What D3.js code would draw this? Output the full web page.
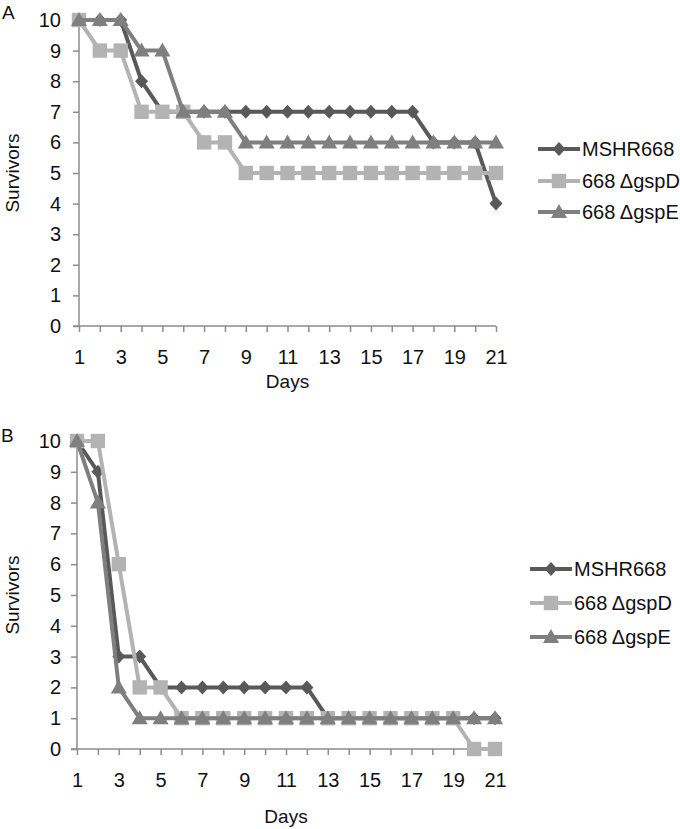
<!DOCTYPE html>
<html><head><meta charset="utf-8">
<script src="https://cdn.jsdelivr.net/npm/d3@7"></script>
<style>body{margin:0;background:#fff}svg{display:block;font-family:"Liberation Sans",Arial,sans-serif}</style>
</head><body><svg id="c" width="680" height="829"></svg>
<script>
const days = d3.range(1, 22);
const xTickLabels = [1,3,5,7,9,11,13,15,17,19,21];
const yTicks = [0,1,2,3,4,5,6,7,8,9,10];
const seriesNames = ["MSHR668", "668 \u0394gspD", "668 \u0394gspE"];
const seriesColors = ["#595959", "#b3b3b3", "#7f7f7f"];
const seriesShapes = ["diamond", "square", "triangle"];

// Panel A
const a_MSHR668 = [10,10,10,8,7,7,7,7,7,7,7,7,7,7,7,7,7,6,6,6,4];
const a_gspD    = [10,9,9,7,7,7,6,6,5,5,5,5,5,5,5,5,5,5,5,5,5];
const a_gspE    = [10,10,10,9,9,7,7,7,6,6,6,6,6,6,6,6,6,6,6,6,6];
// Panel B
const b_MSHR668 = [10,9,3,3,2,2,2,2,2,2,2,2,1,1,1,1,1,1,1,1,1];
const b_gspD    = [10,10,6,2,2,1,1,1,1,1,1,1,1,1,1,1,1,1,1,0,0];
const b_gspE    = [10,8,2,1,1,1,1,1,1,1,1,1,1,1,1,1,1,1,1,1,1];

const svg = d3.select("#c");

function shapePath(type){
  const p = d3.path();
  if(type==="diamond"){ p.moveTo(0,-7); p.lineTo(6.5,0); p.lineTo(0,7); p.lineTo(-6.5,0); p.closePath(); }
  else if(type==="square"){ p.rect(-7.2,-7.2,14.4,14.4); }
  else { p.moveTo(0,-8); p.lineTo(8,6); p.lineTo(-8,6); p.closePath(); }
  return p.toString();
}

function panel(o){
  const g = svg.append("g");
  const x = d3.scaleLinear().domain([1,21]).range([o.x0, o.x1]);
  const y = d3.scaleLinear().domain([0,10]).range([o.y0, o.y1]);
  const axisColor = "#8c8c8c";
  const ya = g.append("g").attr("transform",`translate(${o.x0},0)`)
    .call(d3.axisLeft(y).tickValues(yTicks).tickSize(6).tickPadding(o.yPad).tickFormat(d3.format("d")));
  ya.select(".domain").attr("stroke",axisColor).attr("stroke-width",1.5).attr("d",`M0,${o.y0}V${o.y1}`);
  ya.selectAll(".tick line").attr("stroke",axisColor).attr("stroke-width",1.5);
  ya.selectAll(".tick text").attr("font-size",20).attr("fill","#111").attr("font-family","Liberation Sans, Arial, sans-serif");
  const xa = g.append("g").attr("transform",`translate(0,${o.y0})`)
    .call(d3.axisBottom(x).tickValues(days).tickSize(6).tickPadding(18)
      .tickFormat(d => xTickLabels.includes(d) ? d : ""));
  xa.select(".domain").attr("stroke",axisColor).attr("stroke-width",1.5).attr("d",`M${o.x0-6},0H${o.x1}`);
  xa.selectAll(".tick line").attr("stroke",axisColor).attr("stroke-width",1.5);
  xa.selectAll(".tick text").attr("font-size",20).attr("fill","#111").attr("font-family","Liberation Sans, Arial, sans-serif");
  g.append("text").attr("x",(o.x0+o.x1)/2).attr("y",o.daysY).attr("text-anchor","middle")
    .attr("font-size",19).attr("fill","#111").text("Days");
  g.append("text").attr("transform",`translate(${o.survX},${(o.y0+o.y1)/2}) rotate(-90)`)
    .attr("text-anchor","middle").attr("font-size",19).attr("fill","#111").text("Survivors");
  g.append("text").attr("x",o.letterX).attr("y",o.letterY).attr("font-size",19).attr("fill","#111").text(o.letter);
  const line = d3.line().x((d,i)=>x(days[i])).y(d=>y(d));
  o.series.forEach((vals,si)=>{
    g.append("path").attr("d",line(vals)).attr("fill","none")
      .attr("stroke",seriesColors[si]).attr("stroke-width",4).attr("stroke-linejoin","round");
    g.selectAll(null).data(vals).enter().append("path")
      .attr("d",shapePath(seriesShapes[si]))
      .attr("transform",(d,i)=>`translate(${x(days[i])},${y(d)})`)
      .attr("fill",seriesColors[si]);
  });
  seriesNames.forEach((name,si)=>{
    const ly = o.legY[si];
    g.append("line").attr("x1",o.legX).attr("x2",o.legX+42).attr("y1",ly).attr("y2",ly)
      .attr("stroke",seriesColors[si]).attr("stroke-width",4);
    g.append("path").attr("d",shapePath(seriesShapes[si]))
      .attr("transform",`translate(${o.legX+21},${ly})`).attr("fill",seriesColors[si]);
    g.append("text").attr("x",o.legX+44).attr("y",ly).attr("dy","0.36em")
      .attr("font-size",20).attr("fill","#111").text(name);
  });
}

panel({letter:"A", letterX:2, letterY:19, x0:79, x1:496, y0:326, y1:20, yPad:12,
  daysY:388, survX:19, legX:538, legY:[149,181,212],
  series:[a_MSHR668, a_gspD, a_gspE]});
panel({letter:"B", letterX:1, letterY:442, x0:77, x1:495, y0:749, y1:441, yPad:10,
  daysY:823, survX:19, legX:530, legY:[569,603,637],
  series:[b_MSHR668, b_gspD, b_gspE]});
</script></body></html>
